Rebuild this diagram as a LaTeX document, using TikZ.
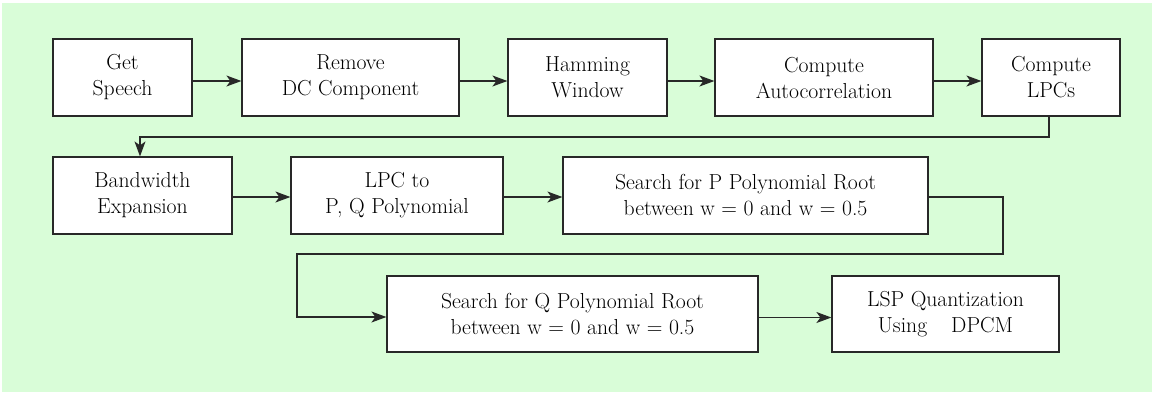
\documentclass[tikz,border=0pt]{standalone}
\usepackage{fontspec}
\newfontfamily\boxfont{Liberation Serif}[Scale=1.0]
\usetikzlibrary{arrows.meta}
\definecolor{panelgreen}{RGB}{217,253,216}
\definecolor{edge}{RGB}{40,40,40}
\tikzset{
  stepbox/.style={draw=edge, line width=1.2pt, fill=white, inner sep=0pt,
    align=center, font=\rmfamily\fontsize{21.7}{26}\selectfont},
  flow/.style={draw=edge, line width=1.2pt,
    -{Stealth[length=15pt,width=11pt,inset=4pt]}}
}
\begin{document}
\begin{tikzpicture}[x=1pt,y=-1pt]
\useasboundingbox (0,0) rectangle (1152,392);
\fill[white] (0,0) rectangle (1152,392);
\fill[panelgreen] (2,3) rectangle (1152,392);

% first row
\node[stepbox, minimum width=139pt, minimum height=77pt] (speech) at (122.5,77.5) {Get\\Speech};
\node[stepbox, minimum width=217pt, minimum height=77pt] (dc) at (350.5,77.5) {Remove\\DC Component};
\node[stepbox, minimum width=159pt, minimum height=77pt] (ham) at (587.5,77.5) {Hamming\\Window};
\node[stepbox, minimum width=218pt, minimum height=77pt] (acf) at (824,77.5) {Compute\\Autocorrelation};
\node[stepbox, minimum width=138pt, minimum height=77pt] (lpc) at (1051,77.5) {Compute\\LPCs};

% second row
\node[stepbox, minimum width=179pt, minimum height=77pt] (bw) at (142.5,195.5) {Bandwidth\\Expansion};
\node[stepbox, minimum width=212pt, minimum height=77pt] (pq) at (397,195.5) {LPC to\\P, Q Polynomial};
\node[stepbox, minimum width=365pt, minimum height=77pt] (proot) at (745.5,195.5) {Search for P Polynomial Root\\between w = 0 and w = 0.5};

% third row
\node[stepbox, minimum width=371pt, minimum height=76pt] (qroot) at (572.5,314) {Search for Q Polynomial Root\\between w = 0 and w = 0.5};
\node[stepbox, minimum width=227pt, minimum height=76pt] (lsp) at (945.5,314) {LSP Quantization\\Using\hspace{0.8em} DPCM};

% turning points of the long connectors
\coordinate (c1) at (1049,137);
\coordinate (c2) at (140,137);
\coordinate (d1) at (1003,197);
\coordinate (d2) at (1003,254);
\coordinate (d3) at (297,254);
\coordinate (d4) at (297,317);

% straight arrows
\draw[flow] ([yshift=-3.5pt]speech.east) -- ([yshift=-3.5pt]dc.west);
\draw[flow] ([yshift=-3.5pt]dc.east) -- ([yshift=-3.5pt]ham.west);
\draw[flow] ([yshift=-3.5pt]ham.east) -- ([yshift=-3.5pt]acf.west);
\draw[flow] ([yshift=-3.5pt]acf.east) -- ([yshift=-3.5pt]lpc.west);
\draw[flow] ([yshift=-1.5pt]bw.east) -- ([yshift=-1.5pt]pq.west);
\draw[flow] ([yshift=-1.5pt]pq.east) -- ([yshift=-1.5pt]proot.west);
\draw[flow] ([yshift=-3.5pt]qroot.east) -- ([yshift=-3.5pt]lsp.west);

% wrap-around connectors
\draw[flow] (lpc.south -| c1) -- (c1) -- (c2) -- (bw.north -| c2);
\draw[flow] (proot.east |- d1) -- (d1) -- (d2) -- (d3) -- (d4) -- (qroot.west |- d4);
\end{tikzpicture}
\end{document}
